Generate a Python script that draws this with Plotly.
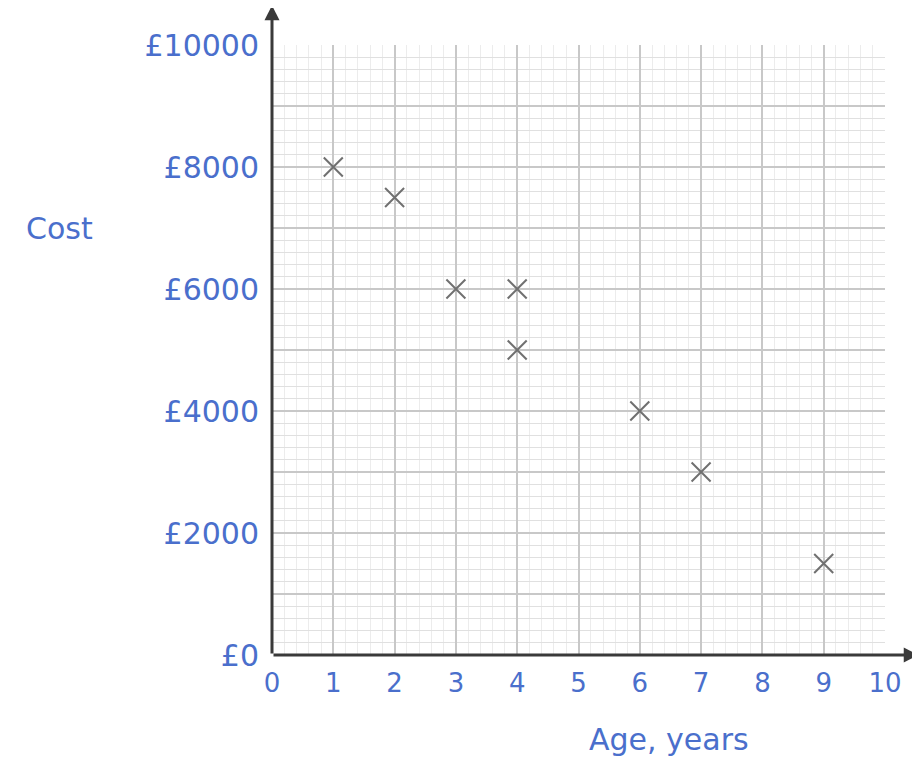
import plotly.graph_objects as go

age_years = [1, 2, 3, 4, 4, 6, 7, 9]
cost_pounds = [8000, 7500, 6000, 6000, 5000, 4000, 3000, 1500]

x_ticks = list(range(0, 11))
y_ticks = list(range(0, 10001, 1000))
y_tick_labels = [f"£{v}" if v % 2000 == 0 else "" for v in y_ticks]

blue = "#4a6fcc"
font_family = "DejaVu Sans"

fig = go.Figure()
fig.add_trace(go.Scatter(
    x=age_years, y=cost_pounds, mode="markers",
    marker=dict(symbol="x-thin-open", size=19, line=dict(width=2, color="#707070"), color="#707070"),
    cliponaxis=False, showlegend=False,
))

fig.update_layout(
    width=920, height=759,
    margin=dict(l=264, r=43, t=37, b=112, autoexpand=False),
    paper_bgcolor="white", plot_bgcolor="white",
    font=dict(family=font_family, color=blue, size=24),
    xaxis=dict(
        range=[0, 10], tickvals=x_ticks, ticktext=[str(v) for v in x_ticks],
        showgrid=True, gridcolor="#c8c8c8", gridwidth=1.5,
        minor=dict(dtick=0.2, showgrid=True, gridcolor="#ececec", gridwidth=1),
        zeroline=False, showline=False, ticks="", ticklabelstandoff=10,
        automargin=False,
        tickfont=dict(size=26, color=blue, family=font_family),
    ),
    yaxis=dict(
        range=[0, 10000], tickvals=y_ticks, ticktext=y_tick_labels,
        showgrid=True, gridcolor="#c8c8c8", gridwidth=1.5,
        minor=dict(dtick=200, showgrid=True, gridcolor="#e0e0e0", gridwidth=1),
        zeroline=False, showline=False, ticks="", ticklabelstandoff=12,
        automargin=False,
        tickfont=dict(size=30, color=blue, family=font_family),
    ),
)

# axes with arrowheads
fig.add_annotation(x=10.55, y=0, ax=0, ay=0, xref="x", yref="y", axref="x", ayref="y",
                   showarrow=True, arrowhead=2, arrowsize=1, arrowwidth=3, arrowcolor="#3a3a3a", text="")
fig.add_annotation(x=0, y=10650, ax=0, ay=0, xref="x", yref="y", axref="x", ayref="y",
                   showarrow=True, arrowhead=2, arrowsize=1, arrowwidth=3, arrowcolor="#3a3a3a", text="")

fig.add_annotation(text="Cost", xref="paper", yref="paper", x=-0.346, y=0.70,
                   showarrow=False, font=dict(size=30, color=blue, family=font_family),
                   xanchor="center", yanchor="middle")
fig.add_annotation(text="Age, years", xref="paper", yref="paper", x=0.648, y=-0.139,
                   showarrow=False, font=dict(size=30, color=blue, family=font_family),
                   xanchor="center", yanchor="middle")

fig.write_html("out.html")
